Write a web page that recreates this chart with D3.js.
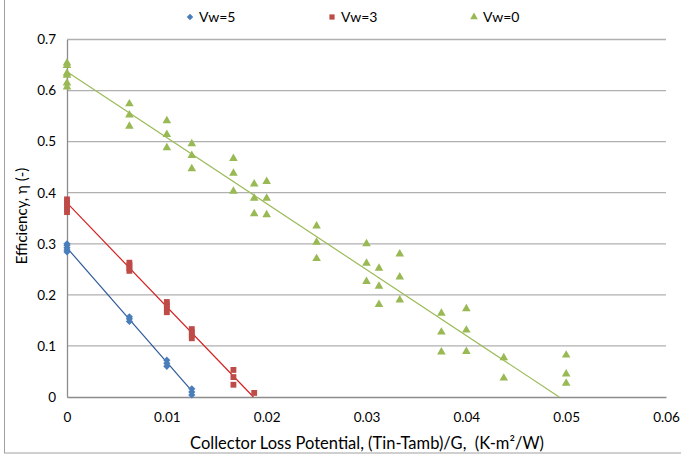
<!DOCTYPE html>
<html>
<head>
<meta charset="utf-8">
<script src="https://cdn.jsdelivr.net/npm/d3@7"></script>
<style>
  html, body { margin: 0; padding: 0; background: #fff; }
  svg { display: block; }
  text { font-family: Lato, "Liberation Sans", Arial, sans-serif; fill: #000; white-space: pre; }
</style>
</head>
<body>
<svg id="chart" width="681" height="463"></svg>
<script>
// Collector efficiency against loss potential for three wind speeds
const xTicks = [0, 0.01, 0.02, 0.03, 0.04, 0.05, 0.06];
const yTicks = [0, 0.1, 0.2, 0.3, 0.4, 0.5, 0.6, 0.7];

const seriesNames = ["Vw=5", "Vw=3", "Vw=0"];

const vw5X = [0, 0, 0, 0, 0,
  0.00625, 0.00625, 0.00625,
  0.01, 0.01, 0.01,
  0.0125, 0.0125, 0.0125];
const vw5Y = [0.284, 0.288, 0.292, 0.297, 0.300,
  0.148, 0.153, 0.157,
  0.060, 0.066, 0.072,
  0.004, 0.010, 0.016];

const vw3X = [0, 0, 0, 0, 0,
  0.00625, 0.00625, 0.00625, 0.00625,
  0.01, 0.01, 0.01, 0.01,
  0.0125, 0.0125, 0.0125, 0.0125,
  0.01667, 0.01667, 0.01667,
  0.01875];
const vw3Y = [0.362, 0.368, 0.375, 0.381, 0.387,
  0.247, 0.252, 0.258, 0.263,
  0.166, 0.174, 0.180, 0.186,
  0.115, 0.121, 0.127, 0.133,
  0.024, 0.039, 0.053,
  0.008];

const vw0X = [0, 0, 0, 0, 0, 0,
  0.00625, 0.00625, 0.00625,
  0.01, 0.01, 0.01,
  0.0125, 0.0125, 0.0125,
  0.01667, 0.01667, 0.01667,
  0.01875, 0.01875, 0.01875,
  0.02, 0.02, 0.02,
  0.025, 0.025, 0.025,
  0.03, 0.03, 0.03,
  0.03125, 0.03125, 0.03125,
  0.03333, 0.03333, 0.03333,
  0.0375, 0.0375, 0.0375,
  0.04, 0.04, 0.04,
  0.04375, 0.04375,
  0.05, 0.05, 0.05];
const vw0Y = [0.654, 0.649, 0.634, 0.630, 0.615, 0.607,
  0.574, 0.552, 0.530,
  0.541, 0.514, 0.488,
  0.496, 0.473, 0.447,
  0.467, 0.438, 0.403,
  0.417, 0.389, 0.359,
  0.422, 0.389, 0.357,
  0.335, 0.303, 0.271,
  0.300, 0.262, 0.226,
  0.252, 0.217, 0.181,
  0.280, 0.235, 0.190,
  0.164, 0.127, 0.088,
  0.173, 0.131, 0.089,
  0.077, 0.037,
  0.082, 0.045, 0.027];

// linear trendline coefficients: efficiency = intercept + slope * x
const trendIntercept = [0.292, 0.380, 0.637];
const trendSlope = [-22.4, -20.35, -12.92];

const markerColors = ["#4A7EBB", "#BE4B48", "#98B954"];
const lineColors = ["#2F5A9A", "#D42020", "#9BBB59"];

const series = [
  { name: seriesNames[0], xs: vw5X, ys: vw5Y, shape: "diamond" },
  { name: seriesNames[1], xs: vw3X, ys: vw3Y, shape: "square" },
  { name: seriesNames[2], xs: vw0X, ys: vw0Y, shape: "triangle" }
];

const svg = d3.select("#chart");
const W = 681, H = 463;
const plot = { left: 67, right: 666, top: 39.5, bottom: 397 };

const x = d3.scaleLinear().domain([0, 0.06]).range([plot.left, plot.right]);
const y = d3.scaleLinear().domain([0, 0.7]).range([plot.bottom, plot.top]);

// chart frame (only its left and bottom edges fall inside the view)
svg.append("rect")
  .attr("x", 4.5).attr("y", -5)
  .attr("width", W + 10).attr("height", 463.5 - 5.5)
  .attr("fill", "none").attr("stroke", "#a0a0a0").attr("stroke-width", 1);

// horizontal gridlines
svg.append("g")
  .selectAll("line")
  .data(yTicks.filter(d => d > 0))
  .join("line")
  .attr("x1", plot.left).attr("x2", plot.right)
  .attr("y1", d => y(d)).attr("y2", d => y(d))
  .attr("stroke", "#b0b0b0").attr("stroke-width", 1.3);

// axes without tick marks
const yAxis = d3.axisLeft(y).tickValues(yTicks).tickSize(0).tickPadding(11)
  .tickFormat(d => d === 0 ? "0" : d3.format(".1f")(d));
const gy = svg.append("g").attr("transform", `translate(${plot.left},0)`).call(yAxis);
gy.select(".domain").attr("stroke", "#8c8c8c").attr("stroke-width", 1.3);
gy.selectAll("text").attr("font-size", 13.5).style("font-family", "Lato, 'Liberation Sans', sans-serif");

const xAxis = d3.axisBottom(x).tickValues(xTicks).tickSize(0).tickPadding(15)
  .tickFormat(d => d === 0 ? "0" : d3.format(".2f")(d));
const gx = svg.append("g").attr("transform", `translate(0,${plot.bottom})`).call(xAxis);
gx.select(".domain").attr("stroke", "#8c8c8c").attr("stroke-width", 1.3);
gx.selectAll("text").attr("font-size", 13.5).style("font-family", "Lato, 'Liberation Sans', sans-serif");

// trendlines, drawn from x = 0 until efficiency reaches zero or the data ends
const trendG = svg.append("g");
series.forEach((s, i) => {
  const b = trendIntercept[i], m = trendSlope[i];
  const xEnd = Math.min(d3.max(s.xs), -b / m);
  const pts = [[0, b], [xEnd, b + m * xEnd]];
  trendG.append("path")
    .attr("d", d3.line().x(d => x(d[0])).y(d => y(d[1]))(pts))
    .attr("fill", "none")
    .attr("stroke", lineColors[i])
    .attr("stroke-width", 1.2);
});

// a square diamond (equal width and height)
const squareDiamond = {
  draw(context, size) {
    const r = Math.sqrt(size / 2);
    context.moveTo(0, -r);
    context.lineTo(r, 0);
    context.lineTo(0, r);
    context.lineTo(-r, 0);
    context.closePath();
  }
};

// markers
const symbolTypes = { diamond: squareDiamond, square: d3.symbolSquare, triangle: d3.symbolTriangle };
const symbolSizes = { diamond: 26, square: 34, triangle: 32 };

series.forEach((s, i) => {
  const sym = d3.symbol().type(symbolTypes[s.shape]).size(symbolSizes[s.shape]);
  svg.append("g")
    .selectAll("path")
    .data(s.xs.map((v, k) => [v, s.ys[k]]))
    .join("path")
    .attr("d", sym)
    .attr("transform", d => `translate(${x(d[0])},${y(d[1])})`)
    .attr("fill", markerColors[i]);
});

// legend
const legendPos = [190, 332, 474];
const legend = svg.append("g");
series.forEach((s, i) => {
  const sym = d3.symbol().type(symbolTypes[s.shape]).size(symbolSizes[s.shape] * 0.8);
  legend.append("path")
    .attr("d", sym)
    .attr("transform", `translate(${legendPos[i]},17)`)
    .attr("fill", markerColors[i]);
  legend.append("text")
    .attr("x", legendPos[i] + 9).attr("y", 21.5)
    .attr("font-size", 14)
    .text(s.name);
});

// axis titles
svg.append("text")
  .attr("x", 367).attr("y", 449)
  .attr("text-anchor", "middle")
  .attr("font-size", 16.5)
  .text("Collector Loss Potential, (Tin-Tamb)/G,  (K-m²/W)");

svg.append("text")
  .attr("transform", "translate(27,216) rotate(-90)")
  .attr("text-anchor", "middle")
  .attr("font-size", 15)
  .text("Efficiency, η (-)");
</script>
</body>
</html>
